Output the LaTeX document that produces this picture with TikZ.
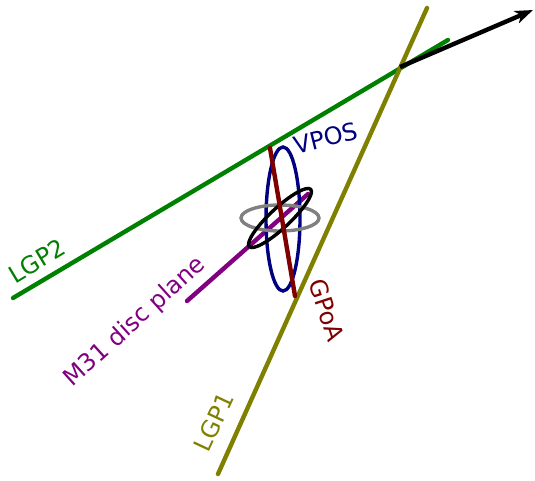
\documentclass[tikz,border=0pt]{standalone}
\usepackage{fontspec}
\setmainfont{DejaVu Sans}
\usepackage{tikz}
\usetikzlibrary{arrows.meta,positioning,calc}
\definecolor{lgpone}{RGB}{128,128,0}
\definecolor{lgptwo}{RGB}{0,128,0}
\definecolor{discpl}{RGB}{128,0,128}
\definecolor{gpoa}{RGB}{128,0,0}
\definecolor{vpos}{RGB}{0,0,128}
\definecolor{ringgray}{RGB}{128,128,128}

\begin{document}
\begin{tikzpicture}[
    x=1pt, y=-1pt,
    font=\fontsize{24}{28}\selectfont,
    plane/.style={line width=4.4pt, line cap=round},
    ring/.style={line width=3.4pt},
    lab/.style={inner sep=0pt, anchor=center}
]
\useasboundingbox (0,0) rectangle (535,480);

% end points of the planes
\coordinate (lgp1a) at (218,474);
\coordinate (lgp1b) at (427,8);
\coordinate (lgp2a) at (13,298);
\coordinate (lgp2b) at (448,40);
\coordinate (disca) at (187,301);
\coordinate (discb) at (308,194);
\coordinate (gpoaa) at (270,148);
\coordinate (gpoab) at (295,296);
\coordinate (mw) at (400,67);
\coordinate (dir) at (533,10);
\coordinate (m31) at (280,218);

% planes
\draw[plane, lgptwo] (lgp2a) -- (lgp2b);
\draw[plane, lgpone] (lgp1a) -- (lgp1b);
\draw[line width=4.4pt, -{Stealth[length=18pt,width=13pt,inset=5pt]}] (mw) -- (dir);
\draw[plane, discpl] (disca) -- (discb);

% rings round M31
\draw[ring, vpos] (283,219) ellipse [x radius=17, y radius=72];
\draw[ring, ringgray] (m31) ellipse [x radius=39, y radius=13];
\draw[ring, black] (m31) ellipse [x radius=42, y radius=10, rotate=43];
\draw[plane, gpoa] (gpoaa) -- (gpoab);

% labels
\node[lab, lgptwo, rotate=31] (lablgp2) at (37,261) {LGP2};
\node[lab, discpl, rotate=42] (labdisc) at (135,322) {M31 disc plane};
\node[lab, lgpone, rotate=65] (lablgp1) at (214,422) {LGP1};
\node[lab, gpoa, rotate=-72] (labgpoa) at (327,310) {GPoA};
\node[lab, vpos, rotate=14] (labvpos) at (326,138) {VPOS};

\end{tikzpicture}
\end{document}
